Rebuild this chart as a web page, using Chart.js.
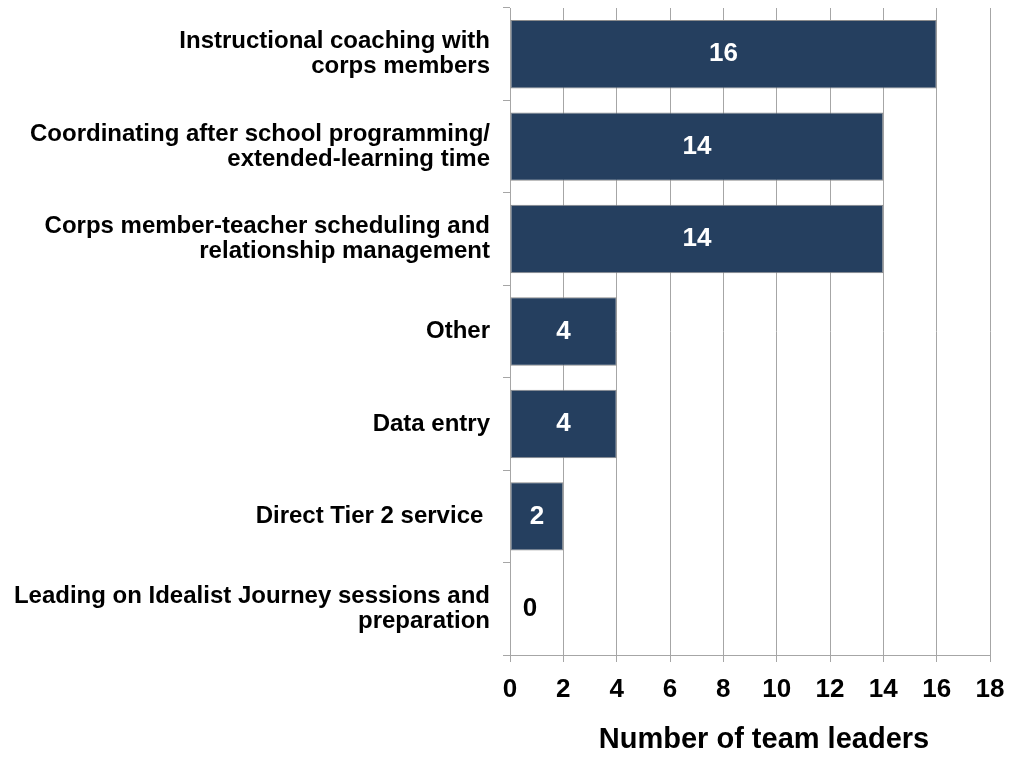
<!DOCTYPE html>
<html>
<head>
<meta charset="utf-8">
<script src="https://cdn.jsdelivr.net/npm/chart.js@4"></script>
<style>
  body { margin: 0; background: #fff; }
</style>
</head>
<body>
<canvas id="tasksChart" width="1010" height="758"></canvas>
<script>
"use strict";

// categories and counts
const tasks = [
  ["Instructional coaching with", "corps members"],
  ["Coordinating after school programming/", "extended-learning time"],
  ["Corps member-teacher scheduling and", "relationship management"],
  "Other",
  "Data entry",
  "Direct Tier 2 service ",
  ["Leading on Idealist Journey sessions and", "preparation"],
];
const leaders = [16, 14, 14, 4, 4, 2, 0];
const xTicks = [0, 2, 4, 6, 8, 10, 12, 14, 16, 18];
const xTitle = "Number of team leaders";

const gridGray = "#a6a6a6";
const barBlue = "#253f5f";
const fontName = "'Liberation Sans', Arial, sans-serif";

// counts on the bars (white inside, black when the bar is empty)
// plus the axis title, which sits a little right of the plot centre
const annotations = {
  id: "annotations",
  afterDatasetsDraw(chart) {
    const ctx = chart.ctx;
    const meta = chart.getDatasetMeta(0);
    ctx.save();
    ctx.font = "bold 26px " + fontName;
    ctx.textAlign = "center";
    ctx.textBaseline = "middle";
    meta.data.forEach((bar, i) => {
      const v = leaders[i];
      if (v === 0) {
        ctx.fillStyle = "#000";
        ctx.fillText(String(v), bar.base + 20, bar.y);
      } else {
        ctx.fillStyle = "#fff";
        ctx.fillText(String(v), (bar.x + bar.base) / 2, bar.y);
      }
    });

    const area = chart.chartArea;
    ctx.fillStyle = "#000";
    ctx.font = "bold 29px " + fontName;
    ctx.fillText(xTitle, (area.left + area.right) / 2 + 14, 740);
    ctx.restore();
  },
};

Chart.defaults.font.family = fontName;
Chart.defaults.color = "#000";

new Chart(document.getElementById("tasksChart"), {
  type: "bar",
  data: {
    labels: tasks,
    datasets: [
      {
        data: leaders,
        backgroundColor: barBlue,
        borderColor: "#8c8c8c",
        borderWidth: 1,
        borderSkipped: false,
        barPercentage: 0.74,
        categoryPercentage: 1,
      },
    ],
  },
  options: {
    indexAxis: "y",
    responsive: false,
    animation: false,
    layout: { padding: { top: 8, right: 20, left: 0, bottom: 0 } },
    plugins: {
      legend: { display: false },
      tooltip: { enabled: false },
    },
    scales: {
      x: {
        min: 0,
        max: 18,
        afterBuildTicks: (scale) => {
          scale.ticks = xTicks.map((v) => ({ value: v }));
        },
        grid: { color: gridGray, lineWidth: 1, tickLength: 7 },
        border: { color: gridGray },
        ticks: {
          font: { size: 26, weight: "bold" },
          padding: 12,
          color: "#000",
        },
        afterFit: (scale) => {
          scale.height = 103;
          scale.paddingLeft = 0;
          scale.paddingRight = 0;
        },
      },
      y: {
        grid: {
          offset: true,
          drawOnChartArea: false,
          drawTicks: true,
          tickLength: 7,
          color: gridGray,
        },
        border: { color: gridGray },
        ticks: {
          font: { size: 24, weight: "bold", lineHeight: 1.05 },
          padding: 13,
          color: "#000",
          autoSkip: false,
        },
        afterFit: (scale) => {
          scale.width = 510;
          scale.paddingTop = 0;
          scale.paddingBottom = 0;
        },
      },
    },
  },
  plugins: [annotations],
});
</script>
</body>
</html>
